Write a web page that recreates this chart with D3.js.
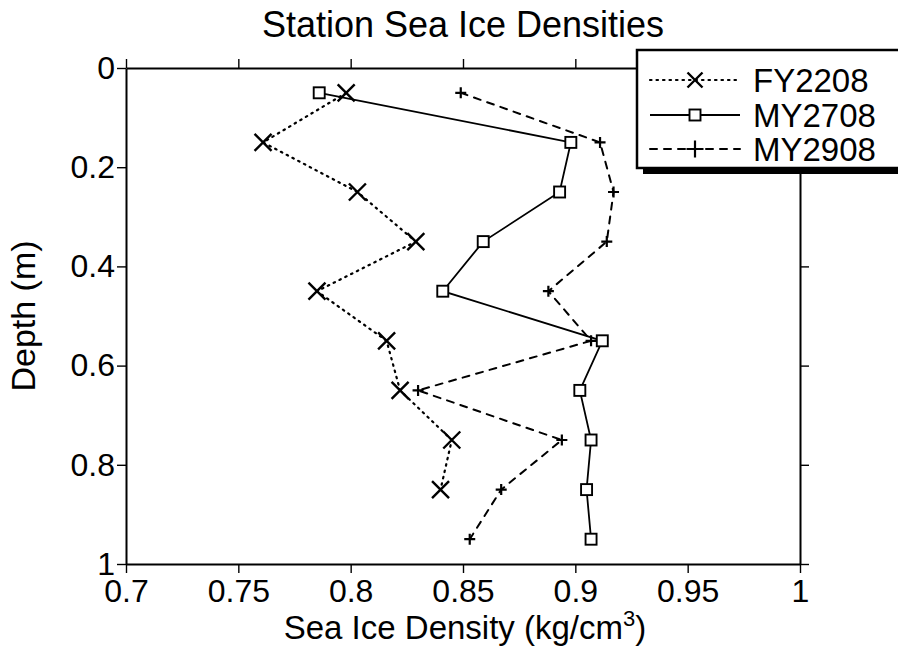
<!DOCTYPE html>
<html>
<head>
<meta charset="utf-8">
<script src="https://cdn.jsdelivr.net/npm/d3@7"></script>
<style>
  body { margin: 0; background: #fff; }
  text { font-family: "Liberation Sans", Arial, sans-serif; fill: #000; }
</style>
</head>
<body>
<script>
// data
var depths = [0.05, 0.15, 0.25, 0.35, 0.45, 0.55, 0.65, 0.75, 0.85, 0.95];
var fy2208 = [0.798, 0.761, 0.803, 0.829, 0.785, 0.816, 0.822, 0.845, 0.840];
var my2708 = [0.786, 0.898, 0.893, 0.859, 0.841, 0.912, 0.902, 0.907, 0.905, 0.907];
var my2908 = [0.849, 0.911, 0.917, 0.914, 0.888, 0.907, 0.830, 0.894, 0.867, 0.853];
var seriesNames = ["FY2208", "MY2708", "MY2908"];
var xTicks = [0.7, 0.75, 0.8, 0.85, 0.9, 0.95, 1];
var yTicks = [0, 0.2, 0.4, 0.6, 0.8, 1];

var W = 898, H = 653;
// plot frame edges (pixels)
var frameL = 126, frameR = 800, frameT = 68, frameB = 564;

var svg = d3.select("body").append("svg")
  .attr("width", W).attr("height", H);

var x = d3.scaleLinear().domain([0.7, 1]).range([frameL, frameR]);
var y = d3.scaleLinear().domain([0, 1]).range([frameT, frameB]);

var xMinor = d3.range(70, 101).map(function(d) { return d / 100; });
var yMinor = d3.range(0, 21).map(function(d) { return d / 20; });

// title
svg.append("text")
  .attr("x", 463).attr("y", 37)
  .attr("text-anchor", "middle")
  .attr("font-size", "36px")
  .text("Station Sea Ice Densities");

// axes (ticks pointing outwards on all four sides)
function styleAxis(g) {
  g.selectAll("path").attr("stroke", "#000").attr("stroke-width", 2);
  g.selectAll("line").attr("stroke", "#000").attr("stroke-width", 1.4);
}

var gBottom = svg.append("g").attr("transform", "translate(0," + frameB + ")");
gBottom.call(d3.axisBottom(x).tickValues(xMinor).tickSize(4).tickSizeOuter(0).tickFormat(""));
gBottom.call(d3.axisBottom(x).tickValues(xTicks).tickSize(9).tickSizeOuter(0).tickFormat(String));
gBottom.selectAll("text").attr("font-size", "32px").attr("dy", "0.8em").attr("font-family", "Liberation Sans, Arial, sans-serif");
styleAxis(gBottom);

var gTop = svg.append("g").attr("transform", "translate(0," + frameT + ")");
gTop.call(d3.axisTop(x).tickValues(xMinor).tickSize(4).tickSizeOuter(0).tickFormat(""));
gTop.call(d3.axisTop(x).tickValues(xTicks).tickSize(9).tickSizeOuter(0).tickFormat(""));
styleAxis(gTop);

var gLeft = svg.append("g").attr("transform", "translate(" + frameL + ",0)");
gLeft.call(d3.axisLeft(y).tickValues(yMinor).tickSize(4).tickSizeOuter(0).tickFormat(""));
gLeft.call(d3.axisLeft(y).tickValues(yTicks).tickSize(9).tickSizeOuter(0).tickFormat(String));
gLeft.selectAll("text").attr("font-size", "32px").attr("x", -11).attr("font-family", "Liberation Sans, Arial, sans-serif");
styleAxis(gLeft);

var gRight = svg.append("g").attr("transform", "translate(" + frameR + ",0)");
gRight.call(d3.axisRight(y).tickValues(yMinor).tickSize(4).tickSizeOuter(0).tickFormat(""));
gRight.call(d3.axisRight(y).tickValues(yTicks).tickSize(9).tickSizeOuter(0).tickFormat(""));
styleAxis(gRight);

// axis titles
svg.append("text")
  .attr("x", 465).attr("y", 639)
  .attr("text-anchor", "middle")
  .attr("font-size", "33px")
  .html('Sea Ice Density (kg/cm<tspan dy="-13" font-size="22px">3</tspan><tspan dy="13">)</tspan>');

svg.append("text")
  .attr("transform", "translate(35," + ((frameT + frameB) / 2) + ") rotate(-90)")
  .attr("text-anchor", "middle")
  .attr("font-size", "34px")
  .text("Depth (m)");

// series
var styles = [
  {vals: fy2208, dash: "1.5,5", width: 2.2, marker: "x"},
  {vals: my2708, dash: null, width: 1.8, marker: "square"},
  {vals: my2908, dash: "7,7", width: 2, marker: "plus"}
];

var line = d3.line()
  .x(function(d) { return x(d.v); })
  .y(function(d) { return y(d.depth); });

function drawMarker(g, type, cx, cy, big) {
  if (type === "x") {
    var s = big ? 7.5 : 8.5;
    g.append("path")
      .attr("d", "M" + (cx - s) + "," + (cy - s) + "L" + (cx + s) + "," + (cy + s) +
                 "M" + (cx - s) + "," + (cy + s) + "L" + (cx + s) + "," + (cy - s))
      .attr("stroke", "#000").attr("stroke-width", 2.4).attr("fill", "none");
  } else if (type === "square") {
    g.append("rect")
      .attr("x", cx - 5.5).attr("y", cy - 5.5).attr("width", 11).attr("height", 11)
      .attr("fill", "#fff").attr("stroke", "#000").attr("stroke-width", 1.9);
  } else {
    var p = big ? 8.5 : 5.5;
    g.append("path")
      .attr("d", "M" + (cx - p) + "," + cy + "L" + (cx + p) + "," + cy +
                 "M" + cx + "," + (cy - p) + "L" + cx + "," + (cy + p))
      .attr("stroke", "#000").attr("stroke-width", 2.2).attr("fill", "none");
  }
}

var plot = svg.append("g");
styles.forEach(function(s) {
  var pts = s.vals.map(function(v, i) { return {v: v, depth: depths[i]}; });
  plot.append("path")
    .datum(pts)
    .attr("d", line)
    .attr("fill", "none")
    .attr("stroke", "#000")
    .attr("stroke-width", s.width)
    .attr("stroke-dasharray", s.dash)
    .attr("stroke-linecap", s.dash ? "round" : "butt");
  pts.forEach(function(p) {
    drawMarker(plot, s.marker, x(p.v), y(p.depth), false);
  });
});

// legend box with drop shadow, clipped at the right edge
var lg = svg.append("g");
lg.append("rect")
  .attr("x", 643).attr("y", 56).attr("width", 270).attr("height", 118)
  .attr("fill", "#000");
lg.append("rect")
  .attr("x", 637).attr("y", 50).attr("width", 270).attr("height", 118)
  .attr("fill", "#fff").attr("stroke", "#000").attr("stroke-width", 2.5);

var rowY = [80, 115, 149];
seriesNames.forEach(function(name, i) {
  var s = styles[i];
  lg.append("line")
    .attr("x1", 650).attr("x2", 740)
    .attr("y1", rowY[i]).attr("y2", rowY[i])
    .attr("stroke", "#000")
    .attr("stroke-width", s.width)
    .attr("stroke-dasharray", s.dash)
    .attr("stroke-linecap", s.dash ? "round" : "butt");
  drawMarker(lg, s.marker, 695, rowY[i], true);
  lg.append("text")
    .attr("x", 753).attr("y", rowY[i])
    .attr("dy", "0.36em")
    .attr("font-size", "33px")
    .text(name);
});
</script>
</body>
</html>
